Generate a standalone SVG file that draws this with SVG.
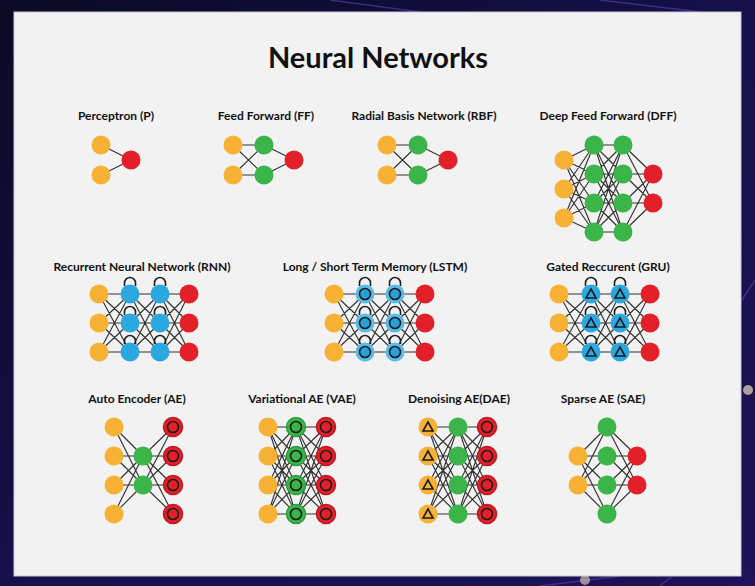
<svg xmlns="http://www.w3.org/2000/svg" xmlns:xlink="http://www.w3.org/1999/xlink" width="755" height="586" viewBox="0 0 755 586">
<style>
.t{font-family:Lato,"Open Sans","Liberation Sans",sans-serif;font-weight:700;fill:#111;text-anchor:middle}
.lbl{font-size:12px}
.e{fill:none;stroke:#333;stroke-width:1.15}
.y{fill:#f7b135}
.g{fill:#3bb54a}
.r{fill:#e3202a}
.b{fill:#2ca8e0}
.bl{fill:#56bde8}
.rr{fill:#e3202a;stroke:#bf1820;stroke-width:1.5}
.gr{fill:#3bb54a;stroke:#2f9e3e;stroke-width:1.5}
.mk{fill:none;stroke:#1d1d1d;stroke-width:1.6}
</style>
<defs>
<linearGradient id="bg" x1="0" y1="0" x2="1" y2="1">
<stop offset="0" stop-color="#0a0a24"/>
<stop offset="0.5" stop-color="#15104a"/>
<stop offset="1" stop-color="#1e1258"/>
</linearGradient>
<circle id="n" r="9.5"/>
<path id="loop" d="M-5.5,-8 v-3 a5.5,5.5 0 0 1 11,0 v3"/>
<circle id="ring" r="5.5"/>
<path id="tri" d="M0,-5 L-5,4 L5,4 Z"/>
</defs>
<rect width="755" height="586" fill="url(#bg)"/>
<path d="M330,0 L420,12 M600,0 L700,12 M540,586 L620,576 M660,586 L740,520 M742,300 L755,280" stroke="#5a3fb0" stroke-width="1.5" fill="none" opacity="0.6"/>
<circle cx="748" cy="390" r="5" fill="#cfc6b0" opacity="0.8"/>
<circle cx="585" cy="580" r="5" fill="#cfc6b0" opacity="0.7"/>
<rect x="14" y="12" width="727" height="564" fill="#f2f2f2" stroke="#c8c8d0" stroke-width="1"/>

<text class="t" x="378" y="68" font-size="29">Neural Networks</text>
<g id="labels">
<text class="t lbl" x="116" y="120">Perceptron (P)</text>
<text class="t lbl" x="266" y="120">Feed Forward (FF)</text>
<text class="t lbl" x="424" y="120">Radial Basis Network (RBF)</text>
<text class="t lbl" x="608" y="120">Deep Feed Forward (DFF)</text>
<text class="t lbl" x="142" y="271">Recurrent Neural Network (RNN)</text>
<text class="t lbl" x="375" y="271">Long / Short Term Memory (LSTM)</text>
<text class="t lbl" x="608" y="271">Gated Reccurent (GRU)</text>
<text class="t lbl" x="137" y="403">Auto Encoder (AE)</text>
<text class="t lbl" x="302" y="403">Variational AE (VAE)</text>
<text class="t lbl" x="459" y="403">Denoising AE(DAE)</text>
<text class="t lbl" x="603" y="403">Sparse AE (SAE)</text>
</g>

<g id="connectors" class="e">
<path id="c-p" d="M101,145L131,160M101,175L131,160"/>
<path id="c-ff" d="M233,145L264,145M233,145L264,175M233,175L264,145M233,175L264,175M264,145L294,160M264,175L294,160"/>
<path id="c-rbf" d="M387,145L418,145M387,145L418,175M387,175L418,145M387,175L418,175M418,145L448,160M418,175L448,160"/>
<path id="c-dff" d="M564,160L594,145M564,160L594,174M564,160L594,203M564,160L594,232M564,189L594,145M564,189L594,174M564,189L594,203M564,189L594,232M564,218L594,145M564,218L594,174M564,218L594,203M564,218L594,232M594,145L623,145M594,145L623,174M594,145L623,203M594,145L623,232M594,174L623,145M594,174L623,174M594,174L623,203M594,174L623,232M594,203L623,145M594,203L623,174M594,203L623,203M594,203L623,232M594,232L623,145M594,232L623,174M594,232L623,203M594,232L623,232M623,145L653,174M623,145L653,203M623,174L653,174M623,174L653,203M623,203L653,174M623,203L653,203M623,232L653,174M623,232L653,203"/>
<path id="c-rnn" d="M99,294L130,294M99,294L130,323M99,294L130,352M99,323L130,294M99,323L130,323M99,323L130,352M99,352L130,294M99,352L130,323M99,352L130,352M130,294L160,294M130,294L160,323M130,294L160,352M130,323L160,294M130,323L160,323M130,323L160,352M130,352L160,294M130,352L160,323M130,352L160,352M160,294L189,294M160,294L189,323M160,294L189,352M160,323L189,294M160,323L189,323M160,323L189,352M160,352L189,294M160,352L189,323M160,352L189,352"/>
<path id="c-lstm" d="M334,294L365,294M334,294L365,323M334,294L365,352M334,323L365,294M334,323L365,323M334,323L365,352M334,352L365,294M334,352L365,323M334,352L365,352M365,294L395,294M365,294L395,323M365,294L395,352M365,323L395,294M365,323L395,323M365,323L395,352M365,352L395,294M365,352L395,323M365,352L395,352M395,294L425,294M395,294L425,323M395,294L425,352M395,323L425,294M395,323L425,323M395,323L425,352M395,352L425,294M395,352L425,323M395,352L425,352"/>
<path id="c-gru" d="M559,294L591,294M559,294L591,323M559,294L591,352M559,323L591,294M559,323L591,323M559,323L591,352M559,352L591,294M559,352L591,323M559,352L591,352M591,294L620,294M591,294L620,323M591,294L620,352M591,323L620,294M591,323L620,323M591,323L620,352M591,352L620,294M591,352L620,323M591,352L620,352M620,294L650,294M620,294L650,323M620,294L650,352M620,323L650,294M620,323L650,323M620,323L650,352M620,352L650,294M620,352L650,323M620,352L650,352"/>
<path id="c-ae" d="M114,427L143,456M114,427L143,485M114,456L143,456M114,456L143,485M114,485L143,456M114,485L143,485M114,514L143,456M114,514L143,485M143,456L173,427M143,456L173,456M143,456L173,485M143,456L173,514M143,485L173,427M143,485L173,456M143,485L173,485M143,485L173,514"/>
<path id="c-vae" d="M268,427L296,427M268,427L296,456M268,427L296,485M268,427L296,514M268,456L296,427M268,456L296,456M268,456L296,485M268,456L296,514M268,485L296,427M268,485L296,456M268,485L296,485M268,485L296,514M268,514L296,427M268,514L296,456M268,514L296,485M268,514L296,514M296,427L326,427M296,427L326,456M296,427L326,485M296,427L326,514M296,456L326,427M296,456L326,456M296,456L326,485M296,456L326,514M296,485L326,427M296,485L326,456M296,485L326,485M296,485L326,514M296,514L326,427M296,514L326,456M296,514L326,485M296,514L326,514"/>
<path id="c-dae" d="M428,427L458,427M428,427L458,456M428,427L458,485M428,427L458,514M428,456L458,427M428,456L458,456M428,456L458,485M428,456L458,514M428,485L458,427M428,485L458,456M428,485L458,485M428,485L458,514M428,514L458,427M428,514L458,456M428,514L458,485M428,514L458,514M458,427L487,427M458,427L487,456M458,427L487,485M458,427L487,514M458,456L487,427M458,456L487,456M458,456L487,485M458,456L487,514M458,485L487,427M458,485L487,456M458,485L487,485M458,485L487,514M458,514L487,427M458,514L487,456M458,514L487,485M458,514L487,514"/>
<path id="c-sae" d="M578,456L607,427M578,456L607,456M578,456L607,485M578,456L607,514M578,485L607,427M578,485L607,456M578,485L607,485M578,485L607,514M607,427L637,456M607,427L637,485M607,456L637,456M607,456L637,485M607,485L637,456M607,485L637,485M607,514L637,456M607,514L637,485"/>
</g>

<g id="net-p">
<use href="#n" class="y" x="101" y="145"/><use href="#n" class="y" x="101" y="175"/><use href="#n" class="r" x="131" y="160"/>
</g>
<g id="net-ff">
<use href="#n" class="y" x="233" y="145"/><use href="#n" class="y" x="233" y="175"/>
<use href="#n" class="g" x="264" y="145"/><use href="#n" class="g" x="264" y="175"/>
<use href="#n" class="r" x="294" y="160"/>
</g>
<g id="net-rbf">
<use href="#n" class="y" x="387" y="145"/><use href="#n" class="y" x="387" y="175"/>
<use href="#n" class="g" x="418" y="145"/><use href="#n" class="g" x="418" y="175"/>
<use href="#n" class="r" x="448" y="160"/>
</g>
<g id="net-dff">
<use href="#n" class="y" x="564" y="160"/><use href="#n" class="y" x="564" y="189"/><use href="#n" class="y" x="564" y="218"/>
<use href="#n" class="g" x="594" y="145"/><use href="#n" class="g" x="594" y="174"/><use href="#n" class="g" x="594" y="203"/><use href="#n" class="g" x="594" y="232"/>
<use href="#n" class="g" x="623" y="145"/><use href="#n" class="g" x="623" y="174"/><use href="#n" class="g" x="623" y="203"/><use href="#n" class="g" x="623" y="232"/>
<use href="#n" class="r" x="653" y="174"/><use href="#n" class="r" x="653" y="203"/>
</g>
<g id="net-rnn">
<use href="#n" class="y" x="99" y="294"/><use href="#n" class="y" x="99" y="323"/><use href="#n" class="y" x="99" y="352"/>
<use href="#n" class="b" x="130" y="294"/><use href="#n" class="b" x="130" y="323"/><use href="#n" class="b" x="130" y="352"/>
<use href="#n" class="b" x="160" y="294"/><use href="#n" class="b" x="160" y="323"/><use href="#n" class="b" x="160" y="352"/>
<use href="#n" class="r" x="189" y="294"/><use href="#n" class="r" x="189" y="323"/><use href="#n" class="r" x="189" y="352"/>
<g class="mk">
<use href="#loop" x="130" y="294"/><use href="#loop" x="130" y="323"/><use href="#loop" x="130" y="352"/>
<use href="#loop" x="160" y="294"/><use href="#loop" x="160" y="323"/><use href="#loop" x="160" y="352"/>
</g>
</g>
<g id="net-lstm">
<use href="#n" class="y" x="334" y="294"/><use href="#n" class="y" x="334" y="323"/><use href="#n" class="y" x="334" y="352"/>
<use href="#n" class="bl" x="365" y="294"/><use href="#n" class="bl" x="365" y="323"/><use href="#n" class="bl" x="365" y="352"/>
<use href="#n" class="bl" x="395" y="294"/><use href="#n" class="bl" x="395" y="323"/><use href="#n" class="bl" x="395" y="352"/>
<use href="#n" class="r" x="425" y="294"/><use href="#n" class="r" x="425" y="323"/><use href="#n" class="r" x="425" y="352"/>
<g class="mk">
<use href="#loop" x="365" y="294"/><use href="#loop" x="365" y="323"/><use href="#loop" x="365" y="352"/>
<use href="#loop" x="395" y="294"/><use href="#loop" x="395" y="323"/><use href="#loop" x="395" y="352"/>
</g>
<g class="mk" style="fill:#2a9fd8">
<use href="#ring" x="365" y="294"/><use href="#ring" x="365" y="323"/><use href="#ring" x="365" y="352"/>
<use href="#ring" x="395" y="294"/><use href="#ring" x="395" y="323"/><use href="#ring" x="395" y="352"/>
</g>
</g>
<g id="net-gru">
<use href="#n" class="y" x="559" y="294"/><use href="#n" class="y" x="559" y="323"/><use href="#n" class="y" x="559" y="352"/>
<use href="#n" class="b" x="591" y="294"/><use href="#n" class="b" x="591" y="323"/><use href="#n" class="b" x="591" y="352"/>
<use href="#n" class="b" x="620" y="294"/><use href="#n" class="b" x="620" y="323"/><use href="#n" class="b" x="620" y="352"/>
<use href="#n" class="r" x="650" y="294"/><use href="#n" class="r" x="650" y="323"/><use href="#n" class="r" x="650" y="352"/>
<g class="mk">
<use href="#loop" x="591" y="294"/><use href="#loop" x="591" y="323"/><use href="#loop" x="591" y="352"/>
<use href="#loop" x="620" y="294"/><use href="#loop" x="620" y="323"/><use href="#loop" x="620" y="352"/>
<use href="#tri" x="591" y="294"/><use href="#tri" x="591" y="323"/><use href="#tri" x="591" y="352"/>
<use href="#tri" x="620" y="294"/><use href="#tri" x="620" y="323"/><use href="#tri" x="620" y="352"/>
</g>
</g>
<g id="net-ae">
<use href="#n" class="y" x="114" y="427"/><use href="#n" class="y" x="114" y="456"/><use href="#n" class="y" x="114" y="485"/><use href="#n" class="y" x="114" y="514"/>
<use href="#n" class="g" x="143" y="456"/><use href="#n" class="g" x="143" y="485"/>
<use href="#n" class="rr" x="173" y="427"/><use href="#n" class="rr" x="173" y="456"/><use href="#n" class="rr" x="173" y="485"/><use href="#n" class="rr" x="173" y="514"/>
<g class="mk">
<use href="#ring" x="173" y="427"/><use href="#ring" x="173" y="456"/><use href="#ring" x="173" y="485"/><use href="#ring" x="173" y="514"/>
</g>
</g>
<g id="net-vae">
<use href="#n" class="y" x="268" y="427"/><use href="#n" class="y" x="268" y="456"/><use href="#n" class="y" x="268" y="485"/><use href="#n" class="y" x="268" y="514"/>
<use href="#n" class="gr" x="296" y="427"/><use href="#n" class="gr" x="296" y="456"/><use href="#n" class="gr" x="296" y="485"/><use href="#n" class="gr" x="296" y="514"/>
<use href="#n" class="rr" x="326" y="427"/><use href="#n" class="rr" x="326" y="456"/><use href="#n" class="rr" x="326" y="485"/><use href="#n" class="rr" x="326" y="514"/>
<g class="mk">
<use href="#ring" x="296" y="427"/><use href="#ring" x="296" y="456"/><use href="#ring" x="296" y="485"/><use href="#ring" x="296" y="514"/>
<use href="#ring" x="326" y="427"/><use href="#ring" x="326" y="456"/><use href="#ring" x="326" y="485"/><use href="#ring" x="326" y="514"/>
</g>
</g>
<g id="net-dae">
<use href="#n" class="y" x="428" y="427"/><use href="#n" class="y" x="428" y="456"/><use href="#n" class="y" x="428" y="485"/><use href="#n" class="y" x="428" y="514"/>
<use href="#n" class="g" x="458" y="427"/><use href="#n" class="g" x="458" y="456"/><use href="#n" class="g" x="458" y="485"/><use href="#n" class="g" x="458" y="514"/>
<use href="#n" class="rr" x="487" y="427"/><use href="#n" class="rr" x="487" y="456"/><use href="#n" class="rr" x="487" y="485"/><use href="#n" class="rr" x="487" y="514"/>
<g class="mk">
<use href="#tri" x="428" y="427"/><use href="#tri" x="428" y="456"/><use href="#tri" x="428" y="485"/><use href="#tri" x="428" y="514"/>
<use href="#ring" x="487" y="427"/><use href="#ring" x="487" y="456"/><use href="#ring" x="487" y="485"/><use href="#ring" x="487" y="514"/>
</g>
</g>
<g id="net-sae">
<use href="#n" class="y" x="578" y="456"/><use href="#n" class="y" x="578" y="485"/>
<use href="#n" class="g" x="607" y="427"/><use href="#n" class="g" x="607" y="456"/><use href="#n" class="g" x="607" y="485"/><use href="#n" class="g" x="607" y="514"/>
<use href="#n" class="r" x="637" y="456"/><use href="#n" class="r" x="637" y="485"/>
</g>
</svg>
